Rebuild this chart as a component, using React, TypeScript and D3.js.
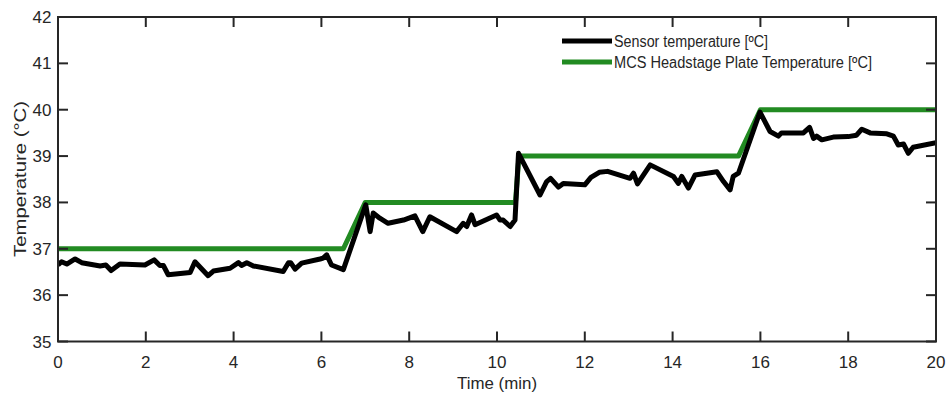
import React from "react";
import * as d3 from "d3";

const sensorTime = [0, 0.08, 0.2, 0.39, 0.54, 0.96, 1.09, 1.21, 1.41, 1.98, 2.19, 2.32, 2.4, 2.51, 2.62, 3.01, 3.12, 3.42, 3.54, 3.92, 4.11, 4.18, 4.3, 4.45, 5.13, 5.25, 5.3, 5.4, 5.55, 5.97, 6.04, 6.12, 6.23, 6.5, 7.01, 7.11, 7.18, 7.33, 7.52, 7.87, 8.13, 8.31, 8.47, 9.08, 9.23, 9.31, 9.42, 9.5, 9.99, 10.07, 10.14, 10.3, 10.41, 10.49, 10.98, 11.13, 11.22, 11.4, 11.51, 12.0, 12.14, 12.33, 12.52, 13.03, 13.11, 13.2, 13.49, 14.02, 14.13, 14.21, 14.36, 14.51, 15.01, 15.16, 15.31, 15.38, 15.5, 15.99, 16.22, 16.41, 16.48, 16.98, 17.12, 17.21, 17.28, 17.4, 17.66, 18.0, 18.19, 18.31, 18.5, 18.88, 19.03, 19.14, 19.26, 19.37, 19.48, 20.0];
const sensorTemp = [36.65, 36.72, 36.67, 36.78, 36.7, 36.63, 36.65, 36.53, 36.67, 36.65, 36.76, 36.64, 36.64, 36.44, 36.45, 36.49, 36.72, 36.42, 36.52, 36.58, 36.7, 36.64, 36.7, 36.63, 36.51, 36.7, 36.7, 36.56, 36.69, 36.78, 36.8, 36.87, 36.65, 36.55, 37.95, 37.37, 37.77, 37.66, 37.55, 37.62, 37.71, 37.37, 37.69, 37.37, 37.55, 37.48, 37.73, 37.52, 37.73, 37.62, 37.62, 37.48, 37.62, 39.06, 38.16, 38.45, 38.52, 38.33, 38.41, 38.38, 38.54, 38.65, 38.67, 38.52, 38.63, 38.4, 38.81, 38.56, 38.41, 38.56, 38.31, 38.59, 38.66, 38.45, 38.27, 38.56, 38.63, 39.95, 39.53, 39.43, 39.5, 39.5, 39.62, 39.38, 39.43, 39.35, 39.41, 39.42, 39.45, 39.58, 39.5, 39.48, 39.43, 39.24, 39.26, 39.06, 39.19, 39.29];

const plateTime = [0, 6.5, 7.0, 10.42, 10.5, 15.5, 16.0, 20];
const plateTemp = [37, 37, 38, 38, 39, 39, 40, 40];

const xTicks = [0, 2, 4, 6, 8, 10, 12, 14, 16, 18, 20];
const yTicks = [35, 36, 37, 38, 39, 40, 41, 42];

const seriesNames = ["Sensor temperature [ºC]", "MCS Headstage Plate Temperature [ºC]"];
const seriesColors = ["#000000", "#228B22"];

const W = 948;
const H = 396;
const axisColor = "#262626";
const font = "'Liberation Sans', Arial, sans-serif";

export default function App() {
  const x = d3.scaleLinear().domain([0, 20]).range([58, 936]);
  const y = d3.scaleLinear().domain([35, 42]).range([341.5, 17]);
  const line = d3
    .line<[number, number]>()
    .x((d) => x(d[0]))
    .y((d) => y(d[1]));
  const sensor: [number, number][] = sensorTime.map((t, i) => [t, sensorTemp[i]]);
  const plate: [number, number][] = plateTime.map((t, i) => [t, plateTemp[i]]);
  const [x0, x1] = x.range();
  const [y0, y1] = y.range();
  const tl = 10;

  return (
    <svg
      width={W}
      height={H}
      style={{ position: "absolute", left: 0, top: 0, background: "#fff" }}
      fontFamily={font}
    >
      <rect x={0} y={0} width={W} height={H} fill="#fff" />
      <defs>
        <clipPath id="plotclip">
          <rect x={x0} y={y1} width={x1 - x0} height={y0 - y1} />
        </clipPath>
      </defs>
      <g clipPath="url(#plotclip)">
        <path d={line(plate) || ""} fill="none" stroke={seriesColors[1]} strokeWidth={5} strokeLinejoin="round" />
        <path d={line(sensor) || ""} fill="none" stroke={seriesColors[0]} strokeWidth={5} strokeLinejoin="round" />
      </g>
      <g stroke={axisColor} strokeWidth={2}>
        {xTicks.map((t) => (
          <g key={"xt" + t}>
            <line x1={x(t)} x2={x(t)} y1={y0} y2={y0 - tl} />
            <line x1={x(t)} x2={x(t)} y1={y1} y2={y1 + tl} />
          </g>
        ))}
        {yTicks.map((t) => (
          <g key={"yt" + t}>
            <line x1={x0} x2={x0 + tl} y1={y(t)} y2={y(t)} />
            <line x1={x1} x2={x1 - tl} y1={y(t)} y2={y(t)} />
          </g>
        ))}
        <rect x={x0} y={y1} width={x1 - x0} height={y0 - y1} fill="none" />
      </g>
      <g fill={axisColor} fontSize={17}>
        {xTicks.map((t) => (
          <text key={"xl" + t} x={x(t)} y={368} textAnchor="middle">
            {t}
          </text>
        ))}
        {yTicks.map((t) => (
          <text key={"yl" + t} x={51.5} y={y(t) + 6} textAnchor="end">
            {t}
          </text>
        ))}
      </g>
      <text x={497} y={389} textAnchor="middle" fontSize={16.5} fill={axisColor} textLength={80} lengthAdjust="spacingAndGlyphs">
        Time (min)
      </text>
      <text
        transform={`translate(26,179) rotate(-90)`}
        textAnchor="middle"
        fontSize={16}
        fill={axisColor}
        textLength={156}
        lengthAdjust="spacingAndGlyphs"
      >
        Temperature (°C)
      </text>
      {seriesNames.map((name, i) => (
        <g key={name}>
          <line x1={562} x2={612} y1={41 + i * 21} y2={41 + i * 21} stroke={seriesColors[i]} strokeWidth={5} />
          <text
            x={614}
            y={46.5 + i * 21}
            fontSize={16}
            fill={axisColor}
            textLength={i === 0 ? 154 : 258}
            lengthAdjust="spacingAndGlyphs"
          >
            {name}
          </text>
        </g>
      ))}
    </svg>
  );
}
